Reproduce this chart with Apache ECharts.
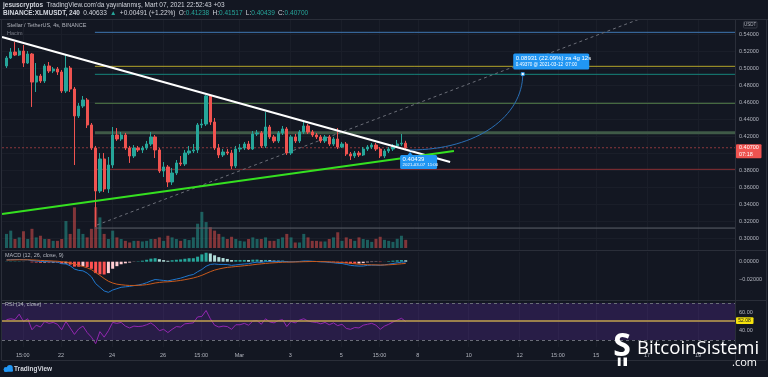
<!DOCTYPE html>
<html>
<head>
<meta charset="utf-8">
<script src="https://cdn.jsdelivr.net/npm/echarts@6/dist/echarts.min.js"></script>
<style>
html, body { margin: 0; padding: 0; background: #131722; }
#chart { width: 768px; height: 377px; }
</style>
</head>
<body>
<div id="chart"></div>
<script>
// XLM/USDT 4h candles, [open, close, low, high]
var candles = [
    [0.5032, 0.5126, 0.5008, 0.5149], [0.5126, 0.5196, 0.5114, 0.5243], [0.5196, 0.5161, 0.5149, 0.5314],
    [0.5161, 0.5208, 0.5149, 0.5243], [0.5208, 0.5067, 0.5020, 0.5279], [0.5067, 0.5173, 0.5055, 0.5208],
    [0.5173, 0.4843, 0.4550, 0.5185], [0.4843, 0.4914, 0.4726, 0.5067], [0.4914, 0.4855, 0.4832, 0.4938],
    [0.4855, 0.5032, 0.4832, 0.5055], [0.5032, 0.4973, 0.4949, 0.5079], [0.4973, 0.4996, 0.4949, 0.5020],
    [0.4996, 0.4961, 0.4926, 0.5020], [0.4961, 0.4738, 0.4714, 0.4985], [0.4738, 0.5008, 0.4714, 0.5161],
    [0.5008, 0.4761, 0.4726, 0.5032], [0.4761, 0.4444, 0.3867, 0.4785], [0.4444, 0.4561, 0.4420, 0.4597],
    [0.4561, 0.4632, 0.4538, 0.4679], [0.4632, 0.4338, 0.4302, 0.4655], [0.4338, 0.4067, 0.4044, 0.4361],
    [0.4067, 0.3561, 0.3138, 0.4091], [0.3561, 0.3938, 0.3538, 0.4008], [0.3938, 0.3585, 0.3549, 0.4008],
    [0.3585, 0.3867, 0.3538, 0.3961], [0.3867, 0.4220, 0.3832, 0.4314], [0.4220, 0.4173, 0.4150, 0.4302],
    [0.4173, 0.4220, 0.4150, 0.4255], [0.4220, 0.4067, 0.4044, 0.4244], [0.4067, 0.3973, 0.3891, 0.4091],
    [0.3973, 0.4067, 0.3949, 0.4102], [0.4067, 0.4044, 0.4020, 0.4091], [0.4044, 0.4067, 0.4008, 0.4091],
    [0.4067, 0.4114, 0.4044, 0.4150], [0.4114, 0.4197, 0.4091, 0.4255], [0.4197, 0.4044, 0.3949, 0.4220],
    [0.4044, 0.3796, 0.3773, 0.4067], [0.3796, 0.3844, 0.3726, 0.3902], [0.3844, 0.3667, 0.3608, 0.3867],
    [0.3667, 0.3773, 0.3632, 0.3832], [0.3773, 0.3891, 0.3749, 0.3926], [0.3891, 0.3879, 0.3855, 0.3973],
    [0.3879, 0.4008, 0.3855, 0.4044], [0.4008, 0.4032, 0.3985, 0.4091], [0.4032, 0.4044, 0.4008, 0.4114],
    [0.4044, 0.4338, 0.4008, 0.4361], [0.4338, 0.4349, 0.4302, 0.4408], [0.4349, 0.4679, 0.4326, 0.4691],
    [0.4679, 0.4373, 0.4338, 0.4691], [0.4373, 0.4067, 0.4044, 0.4420], [0.4067, 0.3985, 0.3949, 0.4114],
    [0.3985, 0.4020, 0.3961, 0.4055], [0.4020, 0.4008, 0.3985, 0.4055], [0.4008, 0.3855, 0.3820, 0.4044],
    [0.3855, 0.4055, 0.3832, 0.4091], [0.4055, 0.4067, 0.4020, 0.4114], [0.4067, 0.4114, 0.4044, 0.4138],
    [0.4114, 0.4055, 0.4044, 0.4150], [0.4055, 0.4232, 0.4044, 0.4267], [0.4232, 0.4244, 0.4208, 0.4279],
    [0.4244, 0.4091, 0.4067, 0.4267], [0.4091, 0.4314, 0.4067, 0.4491], [0.4314, 0.4197, 0.4173, 0.4338],
    [0.4197, 0.4150, 0.4126, 0.4220], [0.4150, 0.4244, 0.4126, 0.4267], [0.4244, 0.4291, 0.4220, 0.4326],
    [0.4291, 0.4008, 0.3985, 0.4314], [0.4008, 0.4197, 0.3985, 0.4220], [0.4197, 0.4150, 0.4126, 0.4232],
    [0.4150, 0.4255, 0.4126, 0.4279], [0.4255, 0.4326, 0.4232, 0.4373], [0.4326, 0.4255, 0.4232, 0.4349],
    [0.4255, 0.4220, 0.4197, 0.4279], [0.4220, 0.4197, 0.4173, 0.4244], [0.4197, 0.4150, 0.4126, 0.4220],
    [0.4150, 0.4197, 0.4126, 0.4220], [0.4197, 0.4114, 0.4091, 0.4220], [0.4114, 0.4173, 0.4091, 0.4197],
    [0.4173, 0.4079, 0.4055, 0.4302], [0.4079, 0.4114, 0.4067, 0.4138], [0.4114, 0.3997, 0.3973, 0.4138],
    [0.3997, 0.3973, 0.3926, 0.4020], [0.3973, 0.4008, 0.3949, 0.4032], [0.4008, 0.3985, 0.3961, 0.4032],
    [0.3985, 0.4055, 0.3973, 0.4079], [0.4055, 0.4079, 0.4032, 0.4102], [0.4079, 0.4102, 0.4055, 0.4126],
    [0.4102, 0.4055, 0.4032, 0.4126], [0.4055, 0.3973, 0.3949, 0.4079], [0.3973, 0.4032, 0.3949, 0.4055],
    [0.4032, 0.4055, 0.4008, 0.4079], [0.4055, 0.4091, 0.4032, 0.4114], [0.4091, 0.4114, 0.4067, 0.4161],
    [0.4114, 0.4124, 0.4091, 0.4232], [0.41238, 0.40700, 0.40439, 0.41517]
];

// volume, millions XLM
var volume = [
    6.9, 8.5, 4.4, 5.2, 8.2, 4.4, 9.4, 5.2, 6.0, 4.4, 4.4, 3.5, 3.5, 4.4, 13.2, 6.9, 19.9, 9.4, 6.9, 5.2,
    9.4, 20.0, 15.0, 6.9, 4.4, 8.5, 5.2, 4.4, 3.5, 2.7, 3.5, 3.5, 3.2, 3.5, 4.4, 4.4, 5.2, 3.5, 6.0, 5.2,
    4.4, 3.5, 4.4, 3.9, 5.2, 11.9, 17.7, 12.7, 10.2, 8.5, 6.9, 5.5, 4.4, 5.5, 4.4, 3.5, 3.2, 4.4, 5.2, 4.4,
    4.4, 5.2, 3.5, 3.5, 4.4, 5.2, 6.9, 5.2, 2.7, 2.7, 6.9, 5.2, 3.5, 3.5, 3.2, 3.2, 4.4, 5.2, 7.7, 3.5,
    5.2, 4.4, 3.5, 5.2, 4.4, 4.0, 3.0, 4.5, 5.5, 4.0, 3.5, 3.0, 4.5, 6.0, 4.0
];

var macdLine = [
    0.0020, 0.0022, 0.0023, 0.0024, 0.0022, 0.0021, 0.0012, 0.0008, 0.0002, 0.0003, 0.0000, -0.0002, -0.0005,
    -0.0022, -0.0025, -0.0045, -0.0080, -0.0095, -0.0100, -0.0125, -0.0165, -0.0240, -0.0280, -0.0320, -0.0335,
    -0.0310, -0.0295, -0.0280, -0.0275, -0.0270, -0.0262, -0.0255, -0.0245, -0.0230, -0.0210, -0.0195, -0.0200,
    -0.0205, -0.0210, -0.0200, -0.0190, -0.0180, -0.0165, -0.0150, -0.0140,
    -0.0110, -0.0085, -0.0050, -0.0030, -0.0025, -0.0030, -0.0030, -0.0032, -0.0040, -0.0035, -0.0030, -0.0025,
    -0.0022, -0.0012, -0.0005, -0.0008, 0.0000, 0.0002, 0.0000, 0.0002,
    0.0005, 0.0000, -0.0002, 0.0000, 0.0003, 0.0008, 0.0008, 0.0005, 0.0002, -0.0002, -0.0003, -0.0008,
    -0.0012, -0.0018, -0.0020, -0.0030, -0.0040, -0.0045, -0.0048, -0.0047,
    -0.0040, -0.0038, -0.0038, -0.0040, -0.0035, -0.0028, -0.0020, -0.0012, -0.0005, -0.0004
];
var signalLine = [
    0.0018, 0.0019, 0.0020, 0.0021, 0.0021, 0.0021, 0.0019, 0.0017, 0.0014, 0.0012, 0.0010, 0.0007, 0.0005,
    0.0000, -0.0005, -0.0013, -0.0026, -0.0040, -0.0052, -0.0067, -0.0087, -0.0118, -0.0150, -0.0184, -0.0214,
    -0.0233, -0.0246, -0.0252, -0.0257, -0.0260, -0.0260, -0.0259, -0.0256, -0.0251, -0.0243, -0.0233, -0.0227,
    -0.0222, -0.0220, -0.0216, -0.0211, -0.0205, -0.0197, -0.0188, -0.0178,
    -0.0165, -0.0149, -0.0129, -0.0109, -0.0092, -0.0080, -0.0070, -0.0062, -0.0058, -0.0053, -0.0049, -0.0044,
    -0.0040, -0.0034, -0.0028, -0.0024, -0.0019, -0.0015, -0.0012, -0.0009,
    -0.0006, -0.0005, -0.0004, -0.0003, -0.0002, 0.0000, 0.0001, 0.0002, 0.0002, 0.0001, 0.0000, -0.0002,
    -0.0004, -0.0007, -0.0009, -0.0013, -0.0018, -0.0023, -0.0028, -0.0031,
    -0.0033, -0.0034, -0.0035, -0.0036, -0.0036, -0.0034, -0.0031, -0.0027, -0.0023, -0.0019
];
var macdHist = [
    0.0002, 0.0003, 0.0003, 0.0003, 0.0001, 0.0000, -0.0007, -0.0009, -0.0012, -0.0009, -0.0010, -0.0009, -0.0010,
    -0.0022, -0.0020, -0.0032, -0.0054, -0.0055, -0.0048, -0.0058, -0.0078, -0.0125, -0.0138, -0.0140, -0.0125,
    -0.0077, -0.0049, -0.0028, -0.0018, -0.0010, -0.0002, 0.0004, 0.0011, 0.0021, 0.0033, 0.0038, 0.0027,
    0.0017, 0.0010, 0.0016, 0.0021, 0.0025, 0.0032, 0.0038, 0.0038,
    0.0055, 0.0080, 0.0098, 0.0090, 0.0070, 0.0050, 0.0040, 0.0030, 0.0018, 0.0018, 0.0019, 0.0019,
    0.0018, 0.0022, 0.0023, 0.0016, 0.0019, 0.0017, 0.0012, 0.0011,
    0.0011, 0.0005, 0.0002, 0.0003, 0.0005, 0.0008, 0.0007, 0.0003, 0.0000, -0.0003, -0.0003, -0.0006,
    -0.0008, -0.0011, -0.0011, -0.0017, -0.0022, -0.0022, -0.0020, -0.0016,
    -0.0007, -0.0004, -0.0003, -0.0004, 0.0001, 0.0006, 0.0011, 0.0015, 0.0018, 0.0015
];

var rsi = [
    52, 53, 52, 58, 50, 53, 41, 46, 44, 50, 48, 49, 47,
    41, 50, 43, 36, 42, 45, 38, 33, 26, 39, 33, 40,
    49, 48, 49, 45, 43, 45, 44.5, 45, 46.5, 48.5, 45, 40, 41.5, 38, 41.5, 44.5, 44, 47.5, 48, 48.5,
    55, 55.5, 62, 53, 46, 44, 45, 44.5, 41.5, 46.5, 46.5, 48, 46, 50.5, 51, 47, 53, 49.5, 48.5, 51,
    52, 44.5, 50, 48.5, 51.5, 53, 50.5, 49.5, 49, 47.5, 49, 46.5, 48.5, 45.5, 47, 42.5, 41.5, 43.5, 43, 46,
    47, 48, 46, 41.5, 45, 47, 49.5, 51.5, 53.5, 50
];

// x axis is in days from Feb 22 00:00
var timeTicks = [-1.5, 0, 2, 4, 5.5, 7, 9, 11, 12.5, 14, 16, 18, 19.5, 21, 23, 25];
var timeLabels = ['15:00', '22', '24', '26', '15:00', 'Mar', '3', '5', '15:00', '8', '10', '12', '15:00', '15', '17', '19'];
var priceTicks = [0.30, 0.32, 0.34, 0.36, 0.38, 0.40, 0.42, 0.44, 0.46, 0.48, 0.50, 0.52, 0.54];
var macdTicks = [-0.02, 0];
var rsiTicks = [40, 60];

var levelPrices = [0.5428, 0.5028, 0.4934, 0.4593, 0.4247, 0.3816, 0.3125];
var levelStart = 1.33;
var whiteTrend = [[-2.316, 0.5373], [15.27, 0.3902]];
var greenTrend = [[-2.316, 0.3291], [15.42, 0.4032]];
var greyTrend = [[1.41, 0.3161], [23.12, 0.5632]];
var projStart = [13.7, 0.40439];
var projEnd = [18.12, 0.49370];
var lastPrice = 0.40700;
var rsiMark = 51;

var firstCandleDay = -2.14;
var X_MIN = -2.316, X_MAX = 26.45;

var FONT = '"Liberation Sans", Arial, sans-serif';
var UP = '#26a69a', DOWN = '#ef5350';
var AXIS_TXT = '#b2b5be';
var GRIDLINE = '#1a1e29';
var BORDER = '#2a2e39';

var levelStyles = [
    { color: '#3f77b3', width: 1 },
    { color: '#b3a52a', width: 1 },
    { color: '#16857b', width: 1 },
    { color: '#55804a', width: 1 },
    { color: '#3f5a47', width: 3 },
    { color: '#8a2f33', width: 1 },
    { color: '#5d606b', width: 1 }
];

var candleX = candles.map(function(c, i) { return firstCandleDay + i / 6; });

function findLabel(v) {
    for (var k = 0; k < timeTicks.length; k++) {
        if (Math.abs(timeTicks[k] - v) < 1e-6) return timeLabels[k];
    }
    return '';
}

function dayAxis(grid, labels, split) {
    return {
        type: 'value', gridIndex: grid, min: X_MIN, max: X_MAX,
        axisLine: { show: false },
        axisTick: { show: false, customValues: timeTicks },
        axisLabel: {
            show: labels, customValues: timeTicks, formatter: findLabel,
            color: AXIS_TXT, fontSize: 5.5, fontFamily: FONT, margin: 5
        },
        splitLine: { show: split, lineStyle: { color: GRIDLINE, width: 1 } }
    };
}

function valAxis(grid, min, max, ticks, fmt, split) {
    return {
        type: 'value', gridIndex: grid, position: 'right', min: min, max: max,
        axisLine: { show: false },
        axisTick: { show: false, customValues: ticks },
        axisLabel: { customValues: ticks, formatter: fmt, color: AXIS_TXT, fontSize: 5.5, fontFamily: FONT, margin: 4 },
        splitLine: { show: split, lineStyle: { color: GRIDLINE, width: 1 } }
    };
}

function segment(points, style, z) {
    return {
        type: 'line', xAxisIndex: 0, yAxisIndex: 0, data: points, symbol: 'none',
        silent: true, lineStyle: style, z: z, clip: true
    };
}

var series = [];

series.push({
    type: 'bar', xAxisIndex: 1, yAxisIndex: 1, barWidth: 3, silent: true, z: 1,
    data: volume.map(function(v, i) {
        var up = candles[i][1] >= candles[i][0];
        return { value: [candleX[i], v], itemStyle: { color: up ? 'rgba(38,166,154,0.5)' : 'rgba(239,83,80,0.5)' } };
    })
});

levelPrices.forEach(function(p, k) {
    series.push(segment([[levelStart, p], [X_MAX, p]], levelStyles[k], 1));
});
series.push(segment([[X_MIN, lastPrice], [X_MAX, lastPrice]], { color: 'rgba(239,83,80,0.55)', width: 1, type: [2, 2] }, 1));
series.push(segment(greyTrend, { color: '#6b6e78', width: 1, type: [3, 3] }, 2));

series.push({
    type: 'candlestick', xAxisIndex: 0, yAxisIndex: 0, barWidth: 2.8, silent: true, z: 3,
    data: candles.map(function(c, i) { return [candleX[i], c[0], c[1], c[2], c[3]]; }),
    itemStyle: { color: UP, color0: DOWN, borderColor: UP, borderColor0: DOWN, borderWidth: 1 }
});

series.push(segment(whiteTrend, { color: '#ffffff', width: 2 }, 4));
series.push(segment(greenTrend, { color: '#35e020', width: 2 }, 4));

// MACD
series.push({
    type: 'bar', xAxisIndex: 2, yAxisIndex: 2, barWidth: 3, silent: true,
    data: macdHist.map(function(v, i) {
        var prev = i > 0 ? macdHist[i - 1] : v;
        var col;
        if (v >= 0) col = v >= prev ? '#26a69a' : '#b2dfdb';
        else col = v <= prev ? '#ff5252' : '#ffcdd2';
        return { value: [candleX[i], v], itemStyle: { color: col } };
    })
});
series.push({
    type: 'line', xAxisIndex: 2, yAxisIndex: 2, symbol: 'none', silent: true,
    data: macdLine.map(function(v, i) { return [candleX[i], v]; }),
    lineStyle: { color: '#1f78cf', width: 1 }
});
series.push({
    type: 'line', xAxisIndex: 2, yAxisIndex: 2, symbol: 'none', silent: true,
    data: signalLine.map(function(v, i) { return [candleX[i], v]; }),
    lineStyle: { color: '#c95a1c', width: 1 }
});

// RSI
series.push({
    type: 'line', xAxisIndex: 3, yAxisIndex: 3, symbol: 'none', silent: true,
    data: rsi.map(function(v, i) { return [candleX[i], v]; }),
    lineStyle: { color: '#9327b0', width: 1 },
    markArea: {
        silent: true,
        itemStyle: { color: 'rgba(120,55,205,0.22)' },
        data: [[{ yAxis: 30 }, { yAxis: 70 }]]
    },
    markLine: {
        silent: true, symbol: 'none', animation: false,
        label: { show: false },
        lineStyle: { color: '#6a6d78', type: [3, 3], width: 1 },
        data: [
            { yAxis: 70 }, { yAxis: 30 },
            { yAxis: rsiMark, lineStyle: { color: '#c2a24e', type: 'solid', width: 1.5 } }
        ]
    }
});

var gridBase = { left: 2, right: 33, show: false };
var option = {
    backgroundColor: '#131722',
    animation: false,
    grid: [
        Object.assign({ top: 20, height: 230 }, gridBase),
        Object.assign({ top: 199, height: 49 }, gridBase),
        Object.assign({ top: 252, height: 48 }, gridBase),
        Object.assign({ top: 301, height: 46 }, gridBase)
    ],
    xAxis: [dayAxis(0, false, true), dayAxis(1, false, false), dayAxis(2, false, true), dayAxis(3, true, true)],
    yAxis: [
        valAxis(0, 0.2867, 0.5573, priceTicks, function(v) { return v.toFixed(5); }, true),
        { type: 'value', gridIndex: 1, min: 0, max: 24, show: false },
        valAxis(2, -0.0419, 0.0106, macdTicks, function(v) {
            return (v < 0 ? '\u2212' : '') + Math.abs(v).toFixed(5);
        }, false),
        valAxis(3, 22.3, 72.3, rsiTicks, function(v) { return v.toFixed(2); }, false)
    ],
    series: series
};

var chart = echarts.init(document.getElementById('chart'));
chart.setOption(option);

function txt(x, y, s, size, color, extra) {
    var st = {
        text: s, x: x, y: y, fill: color, font: size + 'px ' + FONT,
        textAlign: 'left', textVerticalAlign: 'middle', align: 'left', verticalAlign: 'middle'
    };
    if (extra) Object.keys(extra).forEach(function(k) { st[k] = extra[k]; });
    return { type: 'text', z: 100, silent: true, style: st };
}
function hline(x1, x2, y, color) {
    return { type: 'line', z: 90, silent: true, shape: { x1: x1, y1: y, x2: x2, y2: y }, style: { stroke: color, lineWidth: 1 } };
}
function vline(x, y1, y2, color) {
    return { type: 'line', z: 90, silent: true, shape: { x1: x, y1: y1, x2: x, y2: y2 }, style: { stroke: color, lineWidth: 1 } };
}

var p0 = chart.convertToPixel({ gridIndex: 0 }, projStart);
var p1 = chart.convertToPixel({ gridIndex: 0 }, projEnd);
var pl = chart.convertToPixel({ gridIndex: 0 }, [X_MAX, lastPrice]);
var pr = chart.convertToPixel({ gridIndex: 3 }, [X_MAX, rsiMark]);
var dx = p1[0] - p0[0], dy = p0[1] - p1[1];

var headStyle = function(size, color, weight) {
    return { fontSize: size, fontFamily: FONT, fill: color, fontWeight: weight || 'normal' };
};

var graphics = [
    // frame
    hline(0, 768, 19.5, BORDER),
    hline(2, 766, 250.5, BORDER),
    hline(2, 766, 300.5, BORDER),
    hline(2, 766, 360.5, BORDER),
    vline(1.5, 19.5, 360.5, BORDER),
    vline(735.5, 19.5, 360.5, BORDER),
    vline(766.5, 19.5, 360.5, BORDER),

    // header
    {
        type: 'text', z: 100, silent: true,
        style: {
            x: 3, y: 5.5, textVerticalAlign: 'middle', verticalAlign: 'middle',
            text: '{b|jesuscryptos} {n|TradingView.com\'da yayınlanmış, Mart 07, 2021 22:52:43 +03}',
            rich: { b: headStyle(6.5, '#d1d4dc', 'bold'), n: headStyle(6.5, '#d1d4dc') }
        }
    },
    {
        type: 'text', z: 100, silent: true,
        style: {
            x: 3, y: 13, textVerticalAlign: 'middle', verticalAlign: 'middle',
            text: '{b|BINANCE:XLMUSDT, 240} {n|0.40633} {g|\u25B2} {n|+0.00491 (+1.22%)} {n|O:}{g|0.41238} {n|H:}{g|0.41517} {n|L:}{g|0.40439} {n|C:}{g|0.40700}',
            rich: {
                b: headStyle(6.5, '#d1d4dc', 'bold'),
                n: headStyle(6.5, '#d1d4dc'),
                g: headStyle(6.5, UP)
            }
        }
    },

    // pane titles
    txt(7, 25.5, 'Stellar / TetherUS, 4s, BINANCE', 5.5, '#b2b5be'),
    txt(7, 33, 'Hacim', 5.5, '#787b86'),
    txt(5, 255.5, 'MACD (12, 26, close, 9)', 5.5, '#b2b5be'),
    txt(5, 304.5, 'RSI (14, close)', 5.5, '#b2b5be'),

    // price scale unit box
    { type: 'rect', z: 95, silent: true, shape: { x: 743.5, y: 21.5, width: 13.5, height: 6.5, r: 1 }, style: { fill: '#131722', stroke: '#363a45', lineWidth: 1 } },
    txt(750.2, 24.8, 'USDT', 4.5, '#b2b5be', { textAlign: 'center', align: 'center' }),

    // last price label
    { type: 'rect', z: 95, silent: true, shape: { x: 736, y: pl[1] - 3.5, width: 25.5, height: 14, r: 1 }, style: { fill: '#ef5350' } },
    txt(739, pl[1], '0.40700', 5.5, '#ffffff'),
    txt(739, pl[1] + 6.5, '07:18', 5.5, '#ffffff'),

    // rsi label
    { type: 'rect', z: 95, silent: true, shape: { x: 736, y: pr[1] - 3.3, width: 17.5, height: 6.6, r: 1 }, style: { fill: '#f5e30d' } },
    txt(738.3, pr[1], '52.08', 5, '#131722'),

    // projection curve and callouts
    {
        type: 'bezierCurve', z: 80, silent: true,
        shape: {
            x1: p0[0], y1: p0[1], x2: p1[0], y2: p1[1],
            cpx1: p0[0] + dx * 0.6, cpy1: p0[1],
            cpx2: p1[0], cpy2: p1[1] + dy * 0.55
        },
        style: { stroke: '#2a6fb5', lineWidth: 1, fill: null }
    },
    { type: 'rect', z: 96, silent: true, shape: { x: p1[0] - 1.5, y: p1[1] - 1.5, width: 3, height: 3 }, style: { fill: '#ffffff', stroke: '#2196f3', lineWidth: 0.8 } },
    { type: 'rect', z: 95, silent: true, shape: { x: p1[0] - 9.5, y: p1[1] - 20.5, width: 76, height: 16, r: 1.5 }, style: { fill: '#2196f3' } },
    txt(p1[0] - 7, p1[1] - 16, '0.08931 (22.09%) za 4g 12s', 6, '#ffffff'),
    txt(p1[0] - 7, p1[1] - 9.3, '0.49370 @ 2021-03-12  07:00', 4.6, '#ffffff'),
    { type: 'polygon', z: 95, silent: true, shape: { points: [[p0[0] - 2.5, p0[1] + 5], [p0[0], p0[1] + 2], [p0[0] + 2.5, p0[1] + 5]] }, style: { fill: '#2196f3' } },
    { type: 'rect', z: 95, silent: true, shape: { x: p0[0] - 10, y: p0[1] + 5, width: 37, height: 14, r: 1.5 }, style: { fill: '#2196f3' } },
    txt(p0[0] - 7.5, p0[1] + 9, '0.40439', 6, '#ffffff'),
    txt(p0[0] - 7.5, p0[1] + 15.3, '2021-03-07  11:00', 4.4, '#ffffff'),

    // TradingView logo
    { type: 'circle', z: 95, silent: true, shape: { cx: 6, cy: 369.5, r: 2.4 }, style: { fill: '#2196f3' } },
    { type: 'circle', z: 95, silent: true, shape: { cx: 9.8, cy: 368, r: 3 }, style: { fill: '#2196f3' } },
    { type: 'rect', z: 95, silent: true, shape: { x: 4, y: 369, width: 9, height: 2.8, r: 1 }, style: { fill: '#2196f3' } },
    txt(14, 369, 'TradingView', 6.5, '#d1d4dc', { font: 'bold 6.5px ' + FONT }),

    // BitcoinSistemi watermark
    txt(622, 347, 'S', 32, '#ffffff', { font: 'bold 32px "Open Sans", sans-serif', textAlign: 'center', align: 'center' }),
    { type: 'rect', z: 100, silent: true, shape: { x: 617.8, y: 357.5, width: 2.8, height: 8.5 }, style: { fill: '#ffffff' } },
    { type: 'rect', z: 100, silent: true, shape: { x: 623.5, y: 357.5, width: 3.5, height: 8.5 }, style: { fill: '#ffffff' } },
    txt(637, 349, 'BitcoinSistemi', 18.6, '#ffffff', { font: '18.6px "Open Sans", sans-serif' }),
    txt(757, 363, '.com', 11, '#ffffff', { font: '11px "Open Sans", sans-serif', textAlign: 'right', align: 'right' })
];

chart.setOption({ graphic: graphics });
</script>
</body>
</html>
